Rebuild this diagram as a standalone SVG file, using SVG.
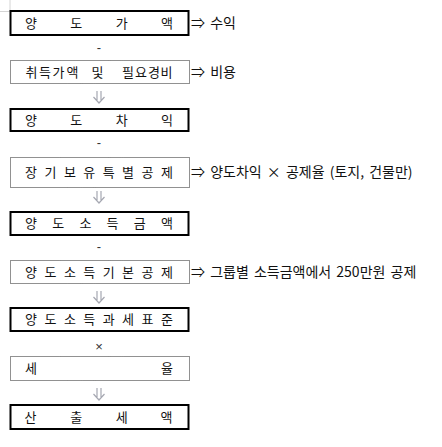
<svg xmlns="http://www.w3.org/2000/svg" width="442" height="447" viewBox="0 0 442 447">
<style>
  .solid { fill: #fff; stroke: #000; stroke-width: 2; }
  .dot { fill: #fff; stroke: #222; stroke-width: 1; stroke-dasharray: 1 1; }
  .t { font-family: "Noto Sans CJK KR", "Noto Sans", sans-serif; font-size: 13px; fill: #111; text-anchor: middle; }
  .ann { font-family: "Noto Sans CJK KR", "Noto Sans", sans-serif; font-size: 14px; fill: #111; word-spacing: 2px; }
  .op { font-family: "Liberation Sans", sans-serif; font-size: 13px; fill: #333; text-anchor: middle; }
  .arr { fill: none; stroke: #a6a8b2; stroke-width: 1.2; }
  .corner { stroke: #d4d4d4; stroke-width: 1; }
</style>
<rect width="442" height="447" fill="#fff"/>
<line class="corner" x1="10" y1="0" x2="10" y2="11"/>
<line class="corner" x1="0" y1="11.5" x2="10" y2="11.5"/>

<g id="connectors">
  <path class="arr" d="M97 91 V100 M101 91 V100 M93.5 97 L99 103 L104.5 97"/>
  <path class="arr" d="M97 191 V200 M101 191 V200 M93.5 197 L99 203 L104.5 197"/>
  <path class="arr" d="M97 291 V300 M101 291 V300 M93.5 297 L99 303 L104.5 297"/>
  <path class="arr" d="M97 388 V397 M101 388 V397 M93.5 394 L99 400 L104.5 394"/>
</g>

<g id="ops">
  <text class="op" x="99" y="52">-</text>
  <text class="op" x="99" y="147">-</text>
  <text class="op" x="99" y="251">-</text>
  <text class="op" x="99" y="350.5">×</text>
</g>

<g id="node-yangdo-gaek">
  <rect class="solid" x="10.5" y="11" width="178" height="24"/>
  <text class="t" x="31 76.3 121.7 167" y="27.5">양도가액</text>
  <text class="ann" x="191" y="27.5">⇒ 수익</text>
</g>

<g id="node-chwideuk">
  <rect class="dot" x="10.5" y="60.5" width="179" height="23"/>
  <text class="t" x="31.5 45 58.5 72.5 97.5 128 141 154 166.5" y="76.5">취득가액및필요경비</text>
  <text class="ann" x="191" y="76.5">⇒ 비용</text>
</g>

<g id="node-yangdo-chaik">
  <rect class="solid" x="10.5" y="109" width="178" height="22"/>
  <text class="t" x="31 76.3 121.7 167" y="124.5">양도차익</text>
</g>

<g id="node-janggi">
  <rect class="dot" x="10.5" y="157.5" width="179" height="30"/>
  <text class="t" x="31 50.4 69.9 89.3 108.7 128.1 147.6 167" y="177">장기보유특별공제</text>
  <text class="ann" x="191" y="177">⇒ 양도차익 × 공제율 (토지, 건물만)</text>
</g>

<g id="node-yangdo-sodeuk">
  <rect class="solid" x="10.5" y="212" width="178" height="23"/>
  <text class="t" x="31 58.2 85.4 112.6 139.8 167" y="228">양도소득금액</text>
</g>

<g id="node-gibon">
  <rect class="dot" x="10.5" y="260.5" width="179" height="23"/>
  <text class="t" x="31 50.4 69.9 89.3 108.7 128.1 147.6 167" y="276.5">양도소득기본공제</text>
  <text class="ann" x="191" y="276.5">⇒ 그룹별 소득금액에서 250만원 공제</text>
</g>

<g id="node-gwase">
  <rect class="solid" x="10.5" y="308" width="178" height="23"/>
  <text class="t" x="31 50.4 69.9 89.3 108.7 128.1 147.6 167" y="324">양도소득과세표준</text>
</g>

<g id="node-seyul">
  <rect class="dot" x="10.5" y="356.5" width="179" height="24"/>
  <text class="t" x="31 167" y="373">세율</text>
</g>

<g id="node-sanchul">
  <rect class="solid" x="10.5" y="405" width="178" height="24"/>
  <text class="t" x="30.5 76.3 121.7 166.5" y="421.5">산출세액</text>
</g>
</svg>
